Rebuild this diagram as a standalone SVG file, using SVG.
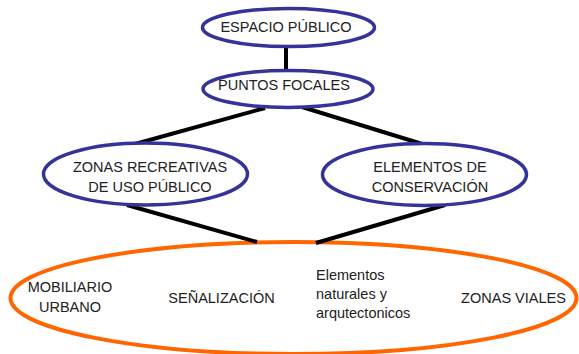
<svg xmlns="http://www.w3.org/2000/svg" width="579" height="354" viewBox="0 0 579 354">
<style>
.n{fill:#fff;stroke:#333399;stroke-width:3.5}
.o{fill:none;stroke:#ff6600;stroke-width:4}
.c line{stroke:#000;stroke-width:4}
text{font-family:"Liberation Sans",Arial,sans-serif;font-size:14.5px;fill:#222;text-anchor:middle}
.l{text-anchor:start}
</style>
<rect width="579" height="354" fill="#fff"/>
<g id="n-bottom">
<ellipse class="o" cx="293.5" cy="298" rx="283" ry="56"/>
<text x="70" y="292">MOBILIARIO</text>
<text x="70" y="312">URBANO</text>
<text x="221.5" y="303">SEÑALIZACIÓN</text>
<text class="l" x="316" y="280">Elementos</text>
<text class="l" x="316" y="299">naturales y</text>
<text class="l" x="316" y="318">arqutectonicos</text>
<text x="513.5" y="303">ZONAS VIALES</text>
</g>
<g class="c" id="connectors">
<line x1="286" y1="46" x2="286" y2="71"/>
<line x1="265" y1="108" x2="135" y2="144"/>
<line x1="302" y1="107" x2="432" y2="147"/>
<line x1="127" y1="205" x2="257" y2="242"/>
<line x1="445" y1="205" x2="316" y2="243"/>
</g>
<g id="n-espacio">
<ellipse class="n" cx="288.5" cy="27.5" rx="86" ry="19"/>
<text x="286" y="32">ESPACIO PÚBLICO</text>
</g>
<g id="n-puntos">
<ellipse class="n" cx="288" cy="89" rx="85" ry="18.5"/>
<text x="284" y="90">PUNTOS FOCALES</text>
</g>
<g id="n-zonas">
<ellipse class="n" cx="145.5" cy="174" rx="102" ry="31"/>
<text x="150" y="172">ZONAS RECREATIVAS</text>
<text x="150" y="192">DE USO PÚBLICO</text>
</g>
<g id="n-elementos">
<ellipse class="n" cx="424.5" cy="174.5" rx="102" ry="31"/>
<text x="430" y="172">ELEMENTOS DE</text>
<text x="430" y="192">CONSERVACIÓN</text>
</g>
</svg>
